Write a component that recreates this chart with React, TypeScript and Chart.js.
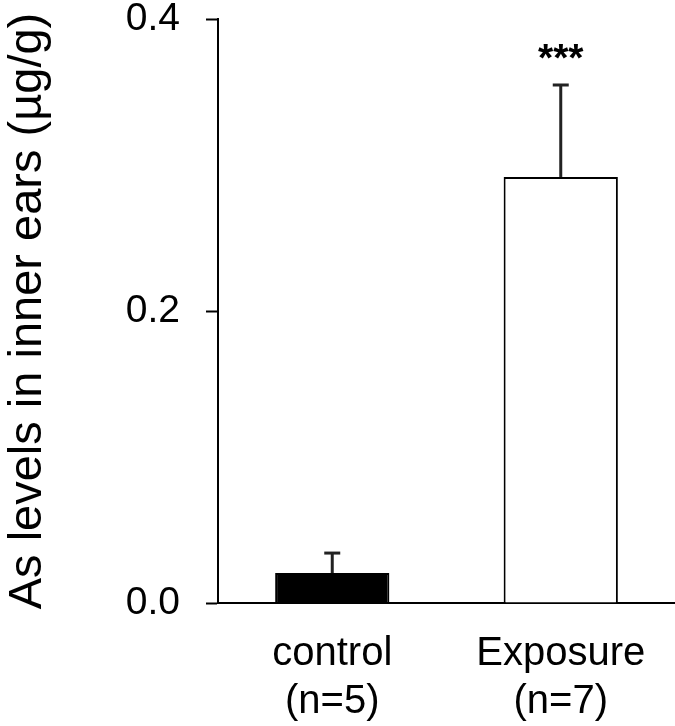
import React, { useEffect, useRef } from "react";
import { Chart, registerables } from "chart.js";

Chart.register(...registerables);

const categories: string[][] = [["control", "(n=5)"], ["Exposure", "(n=7)"]];
const means: number[] = [0.0205, 0.2918];
const sems: number[] = [0.0137, 0.063];
const sigLabels: string[] = ["", "***"];
const fillColors: string[] = ["#000000", "#ffffff"];
const yTicks: number[] = [0, 0.2, 0.4];
const yTitle = "As levels in inner ears (µg/g)";

const FONT = "'Liberation Sans', Arial, sans-serif";

const errorPlugin = {
  id: "errbars",
  afterDatasetsDraw(chart: any) {
    const ctx = chart.ctx;
    const meta = chart.getDatasetMeta(0);
    const y = chart.scales.y;
    meta.data.forEach((bar: any, i: number) => {
      const x = bar.x;
      const base = y.getPixelForValue(means[i]);
      const top = y.getPixelForValue(means[i] + sems[i]);
      ctx.save();
      ctx.strokeStyle = "#222";
      ctx.lineWidth = 3;
      ctx.beginPath();
      ctx.moveTo(x, base);
      ctx.lineTo(x, top);
      ctx.stroke();
      ctx.beginPath();
      ctx.moveTo(x - 8, top);
      ctx.lineTo(x + 8, top);
      ctx.stroke();
      if (sigLabels[i]) {
        ctx.fillStyle = "#000";
        ctx.font = `bold 39px ${FONT}`;
        ctx.textAlign = "center";
        ctx.textBaseline = "alphabetic";
        ctx.fillText(sigLabels[i], x, top - 14);
      }
      ctx.restore();
    });
  },
};

export default function App() {
  const ref = useRef<HTMLCanvasElement>(null);
  useEffect(() => {
    document.body.style.margin = "0";
    const chart = new Chart(ref.current!, {
      type: "bar",
      data: {
        labels: categories,
        datasets: [
          {
            data: means,
            backgroundColor: fillColors,
            borderColor: "#000",
            borderWidth: 2,
            barPercentage: 0.5,
            categoryPercentage: 1,
          },
        ],
      },
      options: {
        responsive: false,
        animation: false,
        devicePixelRatio: 1,
        layout: { padding: { top: 19, right: 0, left: 0, bottom: 0 } },
        plugins: { legend: { display: false }, tooltip: { enabled: false } },
        scales: {
          x: {
            grid: { display: false, drawTicks: false },
            border: { display: true, color: "#000", width: 2 },
            ticks: {
              color: "#000",
              font: { family: FONT, size: 40, lineHeight: 1.2 },
              padding: 27,
              maxRotation: 0,
            },
            afterFit(scale: any) {
              scale.height = 123;
              scale.paddingLeft = 0;
              scale.paddingRight = 0;
            },
          },
          y: {
            min: 0,
            max: 0.4,
            afterBuildTicks(scale: any) {
              scale.ticks = yTicks.map((v) => ({ value: v }));
            },
            grid: {
              drawOnChartArea: false,
              drawTicks: true,
              tickLength: 12,
              tickColor: "#000",
              tickWidth: 2,
            },
            border: { display: true, color: "#000", width: 2 },
            ticks: {
              color: "#000",
              font: { family: FONT, size: 39 },
              padding: 26,
              callback: (v: any) => Number(v).toFixed(1),
            },
            title: {
              display: true,
              text: yTitle,
              color: "#000",
              font: { family: FONT, size: 47 },
              padding: { top: 0, bottom: 0 },
            },
            afterFit(scale: any) {
              scale.width = 218;
              scale.paddingTop = 0;
              scale.paddingBottom = 0;
            },
          },
        },
      },
      plugins: [errorPlugin],
    });
    return () => chart.destroy();
  }, []);
  return (
    <div style={{ width: 675, height: 726, background: "#fff" }}>
      <canvas ref={ref} width={675} height={726} />
    </div>
  );
}
